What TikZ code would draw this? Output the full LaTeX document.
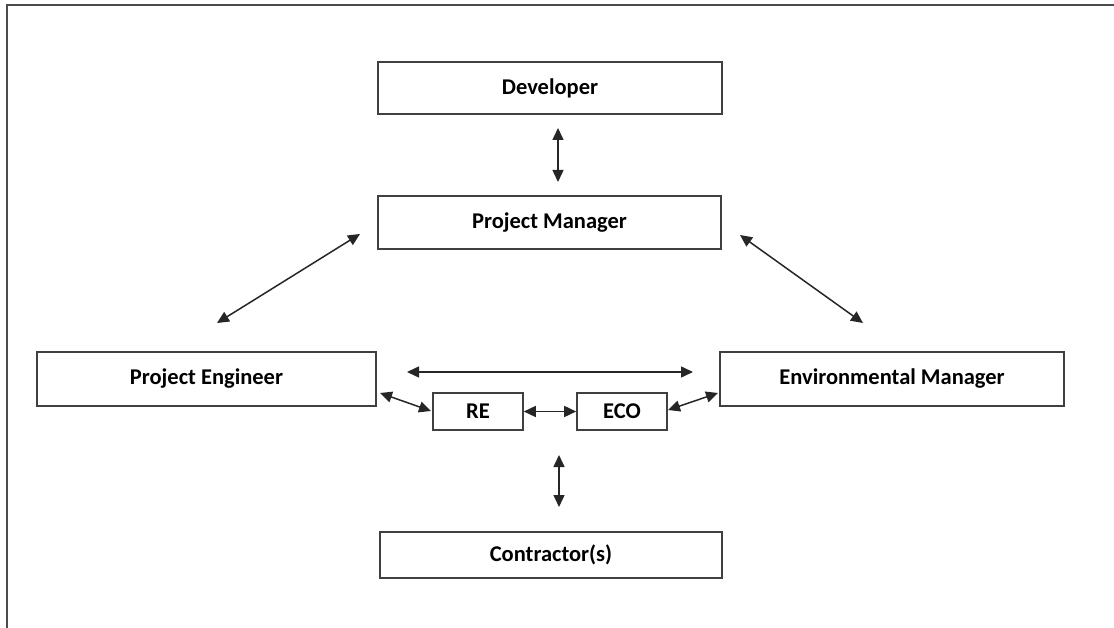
\documentclass[tikz,border=0pt]{standalone}
\usepackage{fontspec}
\setmainfont{Carlito}
\usetikzlibrary{arrows.meta}
\begin{document}
\begin{tikzpicture}[x=1pt,y=-1pt,
  box/.style={draw=black!75,line width=1.6pt,fill=white,inner sep=0pt,
    font=\fontsize{22.5}{26}\selectfont\bfseries},
  link/.style={{Triangle[length=12pt,width=11pt]}-{Triangle[length=12pt,width=11pt]},line width=1.5pt,black!85}]
\useasboundingbox (0,0) rectangle (1114,628);
\draw[black!70,line width=2pt] (7,628) -- (7,5) -- (1114,5);
\node[box,minimum width=344pt,minimum height=52pt] (dev) at (550,88) {Developer};
\node[box,minimum width=343pt,minimum height=53pt] (pm) at (549.5,222.5) {Project Manager};
\node[box,minimum width=339pt,minimum height=54pt] (pe) at (206.5,379) {Project Engineer};
\node[box,minimum width=344pt,minimum height=54pt] (em) at (892,379) {Environmental Manager};
\node[box,minimum width=90pt,minimum height=37pt] (re) at (478,411.5) {RE};
\node[box,minimum width=90pt,minimum height=37pt] (eco) at (622,411.5) {ECO};
\node[box,minimum width=342pt,minimum height=46pt] (con) at (551,555) {Contractor(s)};
% free ends
\coordinate (d1) at (558,128);
\coordinate (d2) at (558,182);
\coordinate (a1) at (360,234);
\coordinate (a2) at (217,323);
\coordinate (b1) at (740,235);
\coordinate (b2) at (863,323);
\coordinate (h1) at (407,372);
\coordinate (h2) at (693,372);
\coordinate (c1) at (559,455);
\coordinate (c2) at (559,507);
\coordinate (p1) at (380,393);
\coordinate (p2) at (431,411);
\coordinate (e1) at (668,410);
\coordinate (e2) at (718,393);
\draw[link] (d1) -- (d2);
\draw[link] (a1) -- (a2);
\draw[link] (b1) -- (b2);
\draw[link] (h1) -- (h2);
\draw[link] (p1) -- (p2);
\draw[link] (re.east) -- (eco.west);
\draw[link] (e1) -- (e2);
\draw[link] (c1) -- (c2);
\end{tikzpicture}
\end{document}
